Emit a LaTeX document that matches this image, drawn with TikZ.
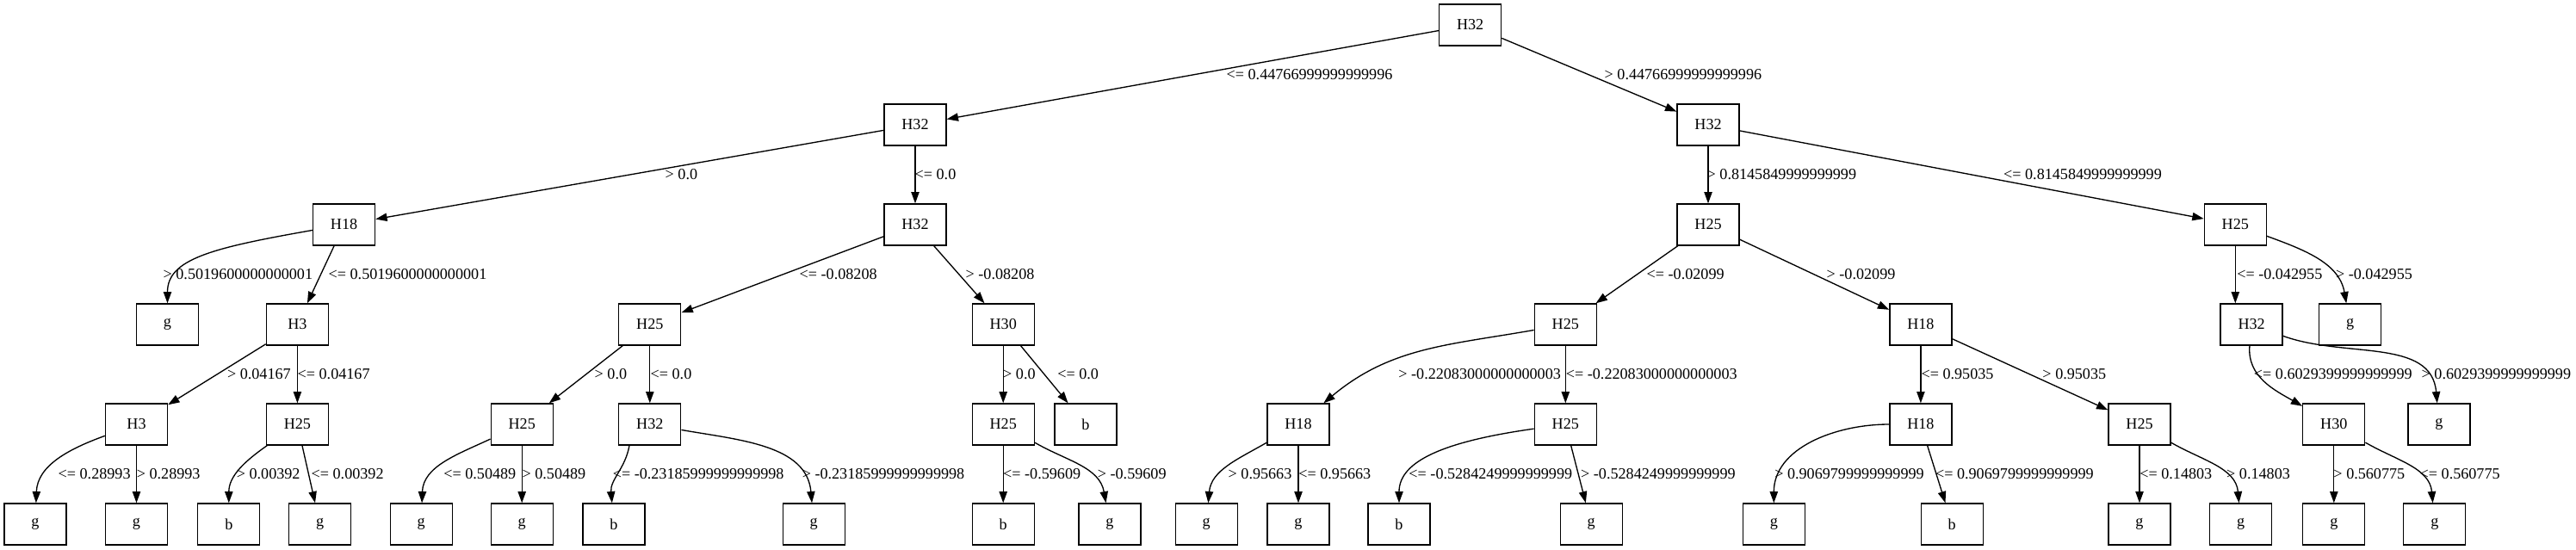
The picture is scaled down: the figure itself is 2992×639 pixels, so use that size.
\documentclass[tikz,border=0pt]{standalone}
\usepackage{fontspec}
\setmainfont{Liberation Serif}
\usetikzlibrary{arrows.meta}

\begin{document}
\begin{tikzpicture}[x=0.75pt, y=0.75pt, line width=1pt,
    every node/.style={font=\fontsize{13.6}{16}\selectfont},
    box/.style={draw, minimum width=54pt, minimum height=36pt, inner sep=0pt},
    lbl/.style={anchor=base west, inner sep=0pt},
    edge/.style={-{Triangle[length=10pt,width=7pt]}}]
\useasboundingbox (0,0) rectangle (2992,-639);
% top of the tree
\node[box] (a1) at (1707.6,-29) {H32};
\node[box] (b1) at (1063,-145) {H32};
\node[box] (b2) at (1984,-145) {H32};
\node[box] (c1) at (399.6,-261) {H18};
\node[box] (c2) at (1063,-261) {H32};
\node[box] (c3) at (1984,-261) {H25};
\node[box] (c4) at (2596.3,-261) {H25};
% lower rows
\foreach \x/\t [count=\i] in {194.5/g, 345.4/H3, 754.8/H25, 1165.2/H30, 1818.3/H25, 2230.9/H18, 2615.1/H32, 2729.6/g}
	\node[box] (d\i) at (\x,-377) {\t};
\foreach \x/\t [count=\i] in {158.5/H3, 345.4/H25, 606.2/H25, 754.8/H32, 1165.2/H25, 1260.9/b, 1508/H18, 1818.3/H25, 2230.9/H18, 2485/H25, 2710.8/H30, 2832.9/g}
	\node[box] (e\i) at (\x,-493) {\t};
\foreach \x/\t [count=\i] in {41/g, 158.5/g, 265.8/b, 371.6/g, 489.2/g, 606.2/g, 713/b, 945.2/g, 1165.2/b, 1288.9/g, 1401.2/g, 1508/g, 1625/b, 1848.2/g, 2060.3/g, 2267.2/b, 2485/g, 2602.7/g, 2710.8/g, 2827.8/g}
	\node[box] (f\i) at (\x,-609) {\t};
% edges
\draw[edge] (a1) -- (b1);
\draw[edge] (a1) -- (b2);
\draw[edge] (b1) -- (c1);
\draw[edge] (b1) -- (c2);
\draw[edge] (b2) -- (c3);
\draw[edge] (b2) -- (c4);
\draw[edge] (c1) to[out=190, in=90, out looseness=1.6, in looseness=0.7] (d1);
\draw[edge] (c1) -- (d2);
\draw[edge] (c2) -- (d3);
\draw[edge] (c2) -- (d4);
\draw[edge] (c3) -- (d5);
\draw[edge] (c3) -- (d6);
\draw[edge] (c4) -- (c4 |- d7.north);
\draw[edge] (c4) to[out=-20, in=100] (d8);
\draw[edge] (d2) -- (e1);
\draw[edge] (d2) -- (e2);
\draw[edge] (d3) -- (e3);
\draw[edge] (d3) -- (e4);
\draw[edge] (d4) -- (e5);
\draw[edge] (d4) -- (e6);
\draw[edge] (d5) to[out=190, in=40] (e7);
\draw[edge] (d5) -- (e8);
\draw[edge] (d6) -- (e9);
\draw[edge] (d6) -- (e10);
\draw[edge] (d7) to[out=-95, in=150] (e11);
\draw[edge] (d7) to[out=-20, in=95] (e12);
\draw[edge] (e1) to[out=200, in=88] (f1);
\draw[edge] (e1) -- (f2);
\draw[edge] (e2) to[out=215, in=90] (f3);
\draw[edge] (e2) -- (f4);
\draw[edge] (e3) to[out=205, in=88] (f5);
\draw[edge] (e3) -- (f6);
\draw[edge] (e4.-134) to[out=-100, in=95] (f7);
\draw[edge] (e4) to[out=-10, in=95] (f8);
\draw[edge] (e5) -- (f9);
\draw[edge] (e5) to[out=-30, in=100] (f10);
\draw[edge] (e7) to[out=210, in=85] (f11);
\draw[edge] (e7) -- (f12);
\draw[edge] (e8) to[out=188, in=90, out looseness=1.5, in looseness=0.7] (f13);
\draw[edge] (e8) -- (f14);
\draw[edge] (e9) to[out=180, in=90] (f15);
\draw[edge] (e9) -- (f16);
\draw[edge] (e10) -- (f17);
\draw[edge] (e10) to[out=-30, in=95] (f18);
\draw[edge] (e11) -- (f19);
\draw[edge] (e11) to[out=-30, in=95] (f20);
% edge labels
\foreach \x/\y/\t [count=\i] in {
	1424/92/{<= 0.44766999999999996}, 1863/92/{> 0.44766999999999996},
	772/208/{> 0.0}, 1062/208/{<= 0.0}, 1982/208/{> 0.8145849999999999}, 2326.5/208/{<= 0.8145849999999999},
	189/324/{> 0.5019600000000001}, 381/324/{<= 0.5019600000000001}, 928/324/{<= -0.08208}, 1121/324/{> -0.08208},
	1912/324/{<= -0.02099}, 2121/324/{> -0.02099}, 2597.6/324/{<= -0.042955}, 2712.4/324/{> -0.042955},
	263.4/440/{> 0.04167}, 345/440/{<= 0.04167}, 690/440/{> 0.0}, 755/440/{<= 0.0},
	1164.5/440/{> 0.0}, 1227.7/440/{<= 0.0}, 1623.7/440/{> -0.22083000000000003}, 1818.2/440/{<= -0.22083000000000003},
	2230.9/440/{<= 0.95035}, 2371.8/440/{> 0.95035}, 2617.3/440/{<= 0.6029399999999999}, 2812/440/{> 0.6029399999999999},
	67/556/{<= 0.28993}, 158.2/556/{> 0.28993}, 274.2/556/{> 0.00392}, 361/556/{<= 0.00392},
	514.7/556/{<= 0.50489}, 605.9/556/{> 0.50489}, 711.1/556/{<= -0.23185999999999998}, 931.1/556/{> -0.23185999999999998},
	1164.5/556/{<= -0.59609}, 1274.2/556/{> -0.59609}, 1426/556/{> 0.95663}, 1507.7/556/{<= 0.95663},
	1635.8/556/{<= -0.5284249999999999}, 1835.5/556/{> -0.5284249999999999}, 2060.6/556/{> 0.9069799999999999}, 2247.4/556/{<= 0.9069799999999999},
	2484.7/556/{<= 0.14803}, 2585.5/556/{> 0.14803}, 2709.8/556/{> 0.560775}, 2810/556/{<= 0.560775}}
	\node[lbl] (q\i) at (\x,-\y) {\t};
\end{tikzpicture}
\end{document}
